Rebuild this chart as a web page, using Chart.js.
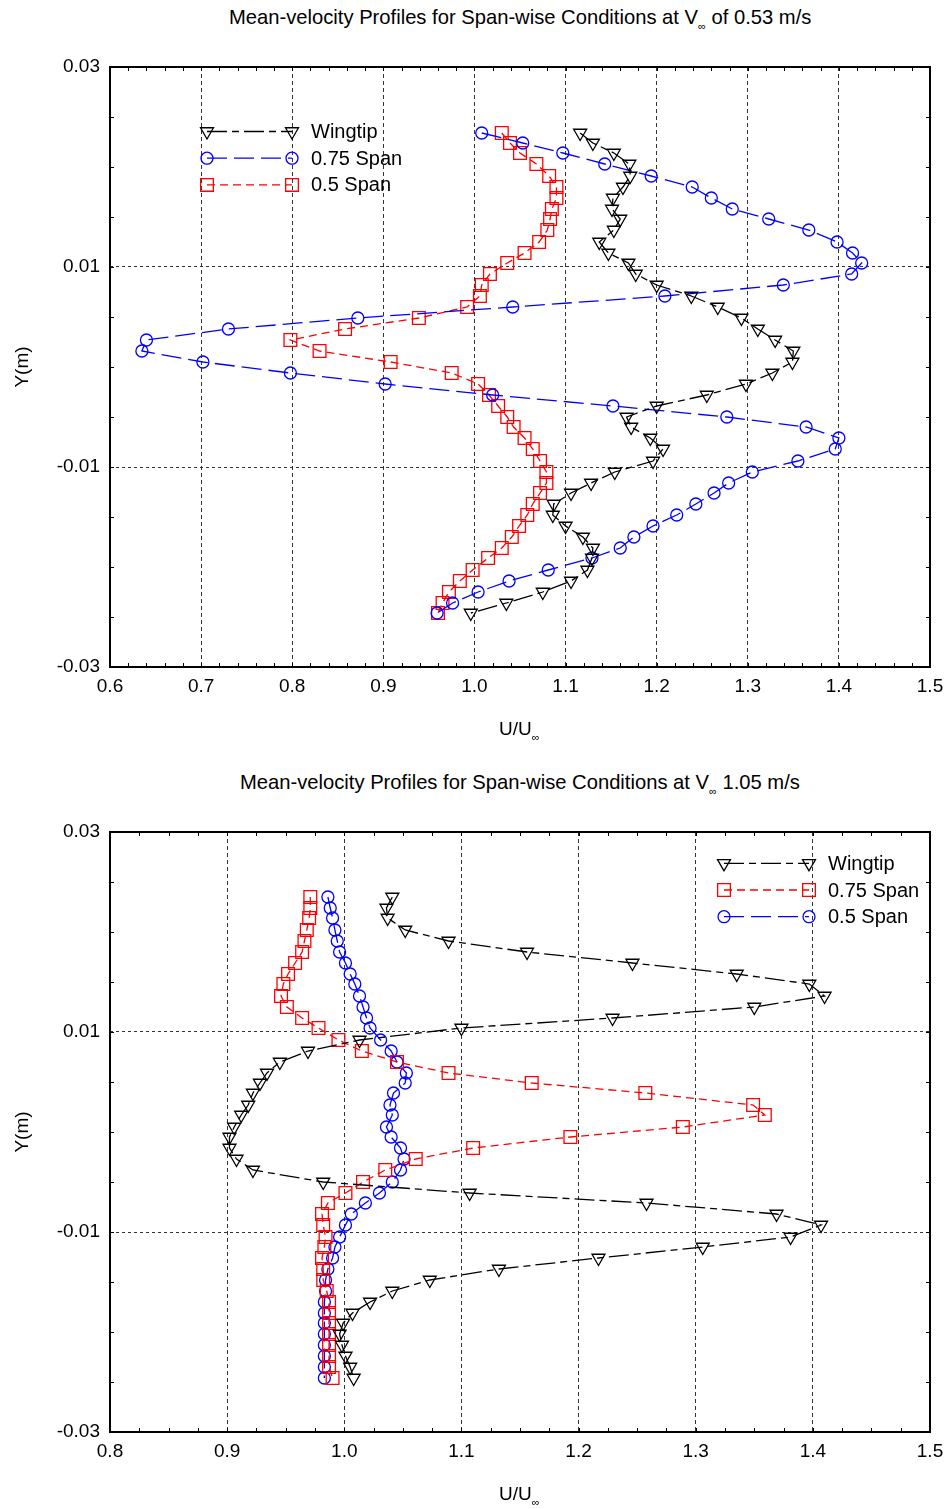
<!DOCTYPE html>
<html>
<head>
<meta charset="utf-8">
<title>Mean-velocity profiles</title>
<script src="https://cdn.jsdelivr.net/npm/chart.js@4.4.1/dist/chart.umd.min.js"></script>
<style>
  html, body { margin: 0; padding: 0; background: #fff; }
  body { width: 948px; height: 1509px; position: relative; overflow: hidden;
         font-family: "Liberation Sans", Arial, sans-serif; color: #000; }
  .panel { position: absolute; left: 0; width: 948px; }
  .txt { position: absolute; white-space: nowrap; line-height: 1; }
  .title { font-size: 20.2px; }
  .axis { font-size: 19px; }
  .inf { font-size: 11px; vertical-align: -6px; }
  .ylab { width: 100px; height: 24px; line-height: 24px; text-align: center;
          transform: rotate(-90deg); }
</style>
</head>
<body>

<div class="txt title" style="left:229px; top:7px;">Mean-velocity Profiles for Span-wise Conditions at V<span class="inf">∞</span> of 0.53 m/s</div>
<div class="panel" style="top:0; height:760px;"><canvas id="chart-053"></canvas></div>
<div class="txt axis ylab" style="left:-28px; top:355px;">Y(m)</div>
<div class="txt axis" style="left:499px; top:719px;">U/U<span class="inf">∞</span></div>

<div class="txt title" style="left:240px; top:772px;">Mean-velocity Profiles for Span-wise Conditions at V<span class="inf">∞</span> 1.05 m/s</div>
<div class="panel" style="top:760px; height:749px;"><canvas id="chart-105"></canvas></div>
<div class="txt axis ylab" style="left:-28px; top:1120px;">Y(m)</div>
<div class="txt axis" style="left:499px; top:1484px;">U/U<span class="inf">∞</span></div>

<script>
// Y stations of the traverse (m), V = 0.53 m/s
const yStations053 = [0.0234, 0.0224, 0.0214, 0.0203, 0.0191, 0.0180, 0.0169, 0.0158, 0.0148, 0.0137,
    0.0125, 0.0114, 0.0104, 0.0093, 0.0082, 0.0071, 0.0060, 0.0049, 0.0038, 0.0027,
    0.0016, 0.0005, -0.0006, -0.0017, -0.0028, -0.0039, -0.0050, -0.0060, -0.0071, -0.0082,
    -0.0094, -0.0105, -0.0116, -0.0126, -0.0137, -0.0148, -0.0159, -0.0170, -0.0181, -0.0191,
    -0.0203, -0.0214, -0.0225, -0.0236, -0.0246];
// U/U_inf at those stations
const wingtip053 = [1.116, 1.130, 1.153, 1.170, 1.171, 1.163, 1.152, 1.151, 1.160, 1.153,
    1.137, 1.147, 1.169, 1.177, 1.200, 1.238, 1.267, 1.293, 1.311, 1.330,
    1.350, 1.349, 1.327, 1.298, 1.255, 1.200, 1.167, 1.172, 1.193, 1.207,
    1.196, 1.154, 1.128, 1.106, 1.087, 1.086, 1.100, 1.119, 1.130, 1.129,
    1.124, 1.106, 1.075, 1.035, 0.996];
const span75_053 = [1.008, 1.053, 1.097, 1.143, 1.194, 1.239, 1.260, 1.283, 1.323, 1.367,
    1.398, 1.415, 1.425, 1.414, 1.339, 1.209, 1.042, 0.872, 0.730, 0.640,
    0.635, 0.702, 0.798, 0.902, 1.020, 1.152, 1.277, 1.364, 1.400, 1.396,
    1.355, 1.305, 1.279, 1.263, 1.243, 1.222, 1.196, 1.175, 1.160, 1.129,
    1.081, 1.038, 1.004, 0.976, 0.959];
const span50_053 = [1.030, 1.039, 1.050, 1.068, 1.082, 1.090, 1.090, 1.085, 1.083, 1.080,
    1.071, 1.055, 1.036, 1.017, 1.008, 1.006, 0.992, 0.939, 0.858, 0.798,
    0.830, 0.908, 0.975, 1.004, 1.016, 1.026, 1.036, 1.043, 1.055, 1.064,
    1.072, 1.079, 1.079, 1.072, 1.064, 1.058, 1.049, 1.041, 1.030, 1.015,
    0.998, 0.984, 0.972, 0.965, 0.960];

// V = 1.05 m/s
const yStations105 = [0.0235, 0.0224, 0.0214, 0.0202, 0.0191, 0.0180, 0.0169, 0.0158, 0.0148, 0.0136,
    0.0125, 0.0114, 0.0104, 0.0092, 0.0081, 0.0070, 0.0059, 0.0049, 0.0039, 0.0027,
    0.0017, 0.0005, -0.0005, -0.0016, -0.0027, -0.0038, -0.0050, -0.0061, -0.0071, -0.0082,
    -0.0093, -0.0105, -0.0115, -0.0126, -0.0137, -0.0148, -0.0159, -0.0170, -0.0181, -0.0191,
    -0.0202, -0.0213, -0.0224, -0.0235, -0.0246];
const wingtip105 = [1.041, 1.036, 1.037, 1.052, 1.089, 1.156, 1.246, 1.335, 1.397, 1.410,
    1.350, 1.229, 1.100, 1.013, 0.969, 0.945, 0.934, 0.928, 0.922, 0.918,
    0.912, 0.906, 0.902, 0.902, 0.908, 0.922, 0.982, 1.107, 1.258, 1.369,
    1.407, 1.381, 1.306, 1.217, 1.132, 1.073, 1.041, 1.022, 1.007, 0.999,
    0.996, 0.998, 1.001, 1.005, 1.008];
const span75_105 = [0.971, 0.971, 0.970, 0.968, 0.966, 0.964, 0.958, 0.952, 0.948, 0.946,
    0.951, 0.964, 0.978, 0.995, 1.015, 1.045, 1.089, 1.160, 1.257, 1.349,
    1.359, 1.289, 1.193, 1.110, 1.061, 1.035, 1.016, 1.001, 0.986, 0.981,
    0.982, 0.984, 0.983, 0.981, 0.982, 0.982, 0.985, 0.987, 0.987, 0.987,
    0.987, 0.987, 0.987, 0.987, 0.990];
const span50_105 = [0.986, 0.988, 0.990, 0.992, 0.994, 0.996, 1.001, 1.005, 1.009, 1.013,
    1.016, 1.019, 1.022, 1.031, 1.040, 1.045, 1.053, 1.052, 1.042, 1.039,
    1.041, 1.036, 1.040, 1.048, 1.051, 1.048, 1.041, 1.030, 1.018, 1.006,
    1.001, 0.996, 0.992, 0.990, 0.986, 0.984, 0.984, 0.983, 0.983, 0.983,
    0.983, 0.983, 0.983, 0.983, 0.983];

// axis ranges / labelled ticks
const yTickValues = [-0.03, -0.01, 0.01, 0.03];
const xRange053 = [0.6, 1.5];
const xRange105 = [0.8, 1.5];

const FONT = '"Liberation Sans", Arial, sans-serif';

const STYLE = {
    wingtip: { borderColor: "#000", pointStyle: "triangle", pointRotation: 180, pointRadius: 7.5, borderDash: [20, 5, 7, 5] },
    blue:    { borderColor: "#0000ff", pointStyle: "circle", pointRotation: 0, pointRadius: 6, borderDash: [20, 7] },
    red:     { borderColor: "#ff0000", pointStyle: "rect", pointRotation: 0, pointRadius: 9, borderDash: [8, 5] },
};

function series(label, ys, xs, style) {
    return Object.assign({
        label,
        data: xs.map((x, i) => ({ x, y: ys[i] })),
        showLine: true,
        fill: false,
        borderWidth: 1.3,
        pointBorderWidth: 1.3,
        pointBackgroundColor: "rgba(0,0,0,0)",
        pointBorderColor: style.borderColor,
    }, style);
}

// frame box plus inward minor ticks on all four sides
const frameTicks = {
    id: "frameTicks",
    afterDraw(chart, args, opts) {
        const { ctx, chartArea: a, scales: { x, y } } = chart;
        ctx.save();
        ctx.strokeStyle = "#000";
        ctx.lineWidth = 1;
        ctx.beginPath();
        const nx = Math.round((x.max - x.min) / opts.xStep);
        for (let i = 1; i < nx; i++) {
            const px = Math.round(x.getPixelForValue(x.min + i * opts.xStep)) + 0.5;
            ctx.moveTo(px, a.bottom); ctx.lineTo(px, a.bottom - opts.len);
            ctx.moveTo(px, a.top); ctx.lineTo(px, a.top + opts.len);
        }
        const ny = Math.round((y.max - y.min) / opts.yStep);
        for (let i = 1; i < ny; i++) {
            const py = Math.round(y.getPixelForValue(y.min + i * opts.yStep)) + 0.5;
            ctx.moveTo(a.left, py); ctx.lineTo(a.left + opts.len, py);
            ctx.moveTo(a.right, py); ctx.lineTo(a.right - opts.len, py);
        }
        ctx.stroke();
        ctx.lineWidth = 2;
        ctx.strokeRect(a.left, a.top, a.right - a.left, a.bottom - a.top);
        ctx.restore();
    }
};

// legend drawn as marker - line - marker, like the plotted series
const lineKey = {
    id: "lineKey",
    afterDraw(chart, args, opts) {
        const { ctx, chartArea: a } = chart;
        const x1 = a.left + opts.dx, x2 = x1 + opts.len;
        chart.data.datasets.forEach((ds, i) => {
            const yy = a.top + opts.dy + i * opts.rowGap;
            ctx.save();
            ctx.strokeStyle = ds.borderColor;
            ctx.lineWidth = ds.borderWidth;
            ctx.setLineDash(ds.borderDash || []);
            ctx.beginPath(); ctx.moveTo(x1, yy); ctx.lineTo(x2, yy); ctx.stroke();
            ctx.setLineDash([]);
            ctx.lineWidth = ds.pointBorderWidth;
            ctx.fillStyle = "rgba(0,0,0,0)";
            const pt = { pointStyle: ds.pointStyle, rotation: ds.pointRotation, radius: ds.pointRadius, borderWidth: ds.pointBorderWidth };
            Chart.helpers.drawPoint(ctx, pt, x1, yy);
            Chart.helpers.drawPoint(ctx, pt, x2, yy);
            ctx.fillStyle = "#000";
            ctx.font = `20px ${FONT}`;
            ctx.textBaseline = "middle";
            ctx.textAlign = "left";
            ctx.fillText(ds.label, x2 + opts.gap, yy + 1);
            ctx.restore();
        });
    }
};

function isEdge(scale, v) {
    return Math.abs(v - scale.min) < 1e-9 || Math.abs(v - scale.max) < 1e-9;
}

function makeChart(id, datasets, xRange, xMinor, pad, key) {
    const ctx = document.getElementById(id).getContext("2d");
    const tickFont = { family: FONT, size: 19 };
    return new Chart(ctx, {
        type: "scatter",
        data: { datasets },
        plugins: [frameTicks, lineKey],
        options: {
            responsive: true, maintainAspectRatio: false, animation: false, events: [],
            layout: { padding: pad },
            plugins: {
                legend: { display: false }, tooltip: { enabled: false },
                frameTicks: { xStep: xMinor, yStep: 0.005, len: 4 },
                lineKey: key,
            },
            scales: {
                x: {
                    type: "linear", min: xRange[0], max: xRange[1],
                    ticks: { stepSize: 0.1, color: "#000", font: tickFont, padding: 8,
                        maxRotation: 0, autoSkip: false, callback: v => v.toFixed(1) },
                    grid: { drawTicks: false, lineWidth: 1,
                        color: c => isEdge(c.scale, c.tick.value) ? "rgba(0,0,0,0)" : "#333" },
                    border: { display: false, dash: [4, 3] },
                    afterFit: s => { s.height = 40; s.paddingLeft = 0; s.paddingRight = 0; },
                },
                y: {
                    type: "linear", min: -0.03, max: 0.03,
                    afterBuildTicks: s => { s.ticks = yTickValues.map(v => ({ value: v })); },
                    ticks: { color: "#000", font: tickFont, padding: 10, callback: v => v.toFixed(2) },
                    grid: { drawTicks: false, lineWidth: 1,
                        color: c => isEdge(c.scale, c.tick.value) ? "rgba(0,0,0,0)" : "#333" },
                    border: { display: false, dash: [3, 3] },
                    afterFit: s => { s.width = 100; s.paddingTop = 0; s.paddingBottom = 0; },
                },
            },
        },
    });
}

makeChart("chart-053", [
    series("Wingtip", yStations053, wingtip053, STYLE.wingtip),
    series("0.75 Span", yStations053, span75_053, STYLE.blue),
    series("0.5 Span", yStations053, span50_053, STYLE.red),
], xRange053, 0.02, { left: 10, right: 18, top: 67, bottom: 53 },
   { dx: 97, dy: 64.5, len: 85, rowGap: 26.7, gap: 19 });

makeChart("chart-105", [
    series("Wingtip", yStations105, wingtip105, STYLE.wingtip),
    series("0.75 Span", yStations105, span75_105, STYLE.red),
    series("0.5 Span", yStations105, span50_105, STYLE.blue),
], xRange105, 0.025, { left: 10, right: 18, top: 72, bottom: 37 },
   { dx: 614, dy: 31.3, len: 85, rowGap: 26.7, gap: 19 });
</script>
</body>
</html>
